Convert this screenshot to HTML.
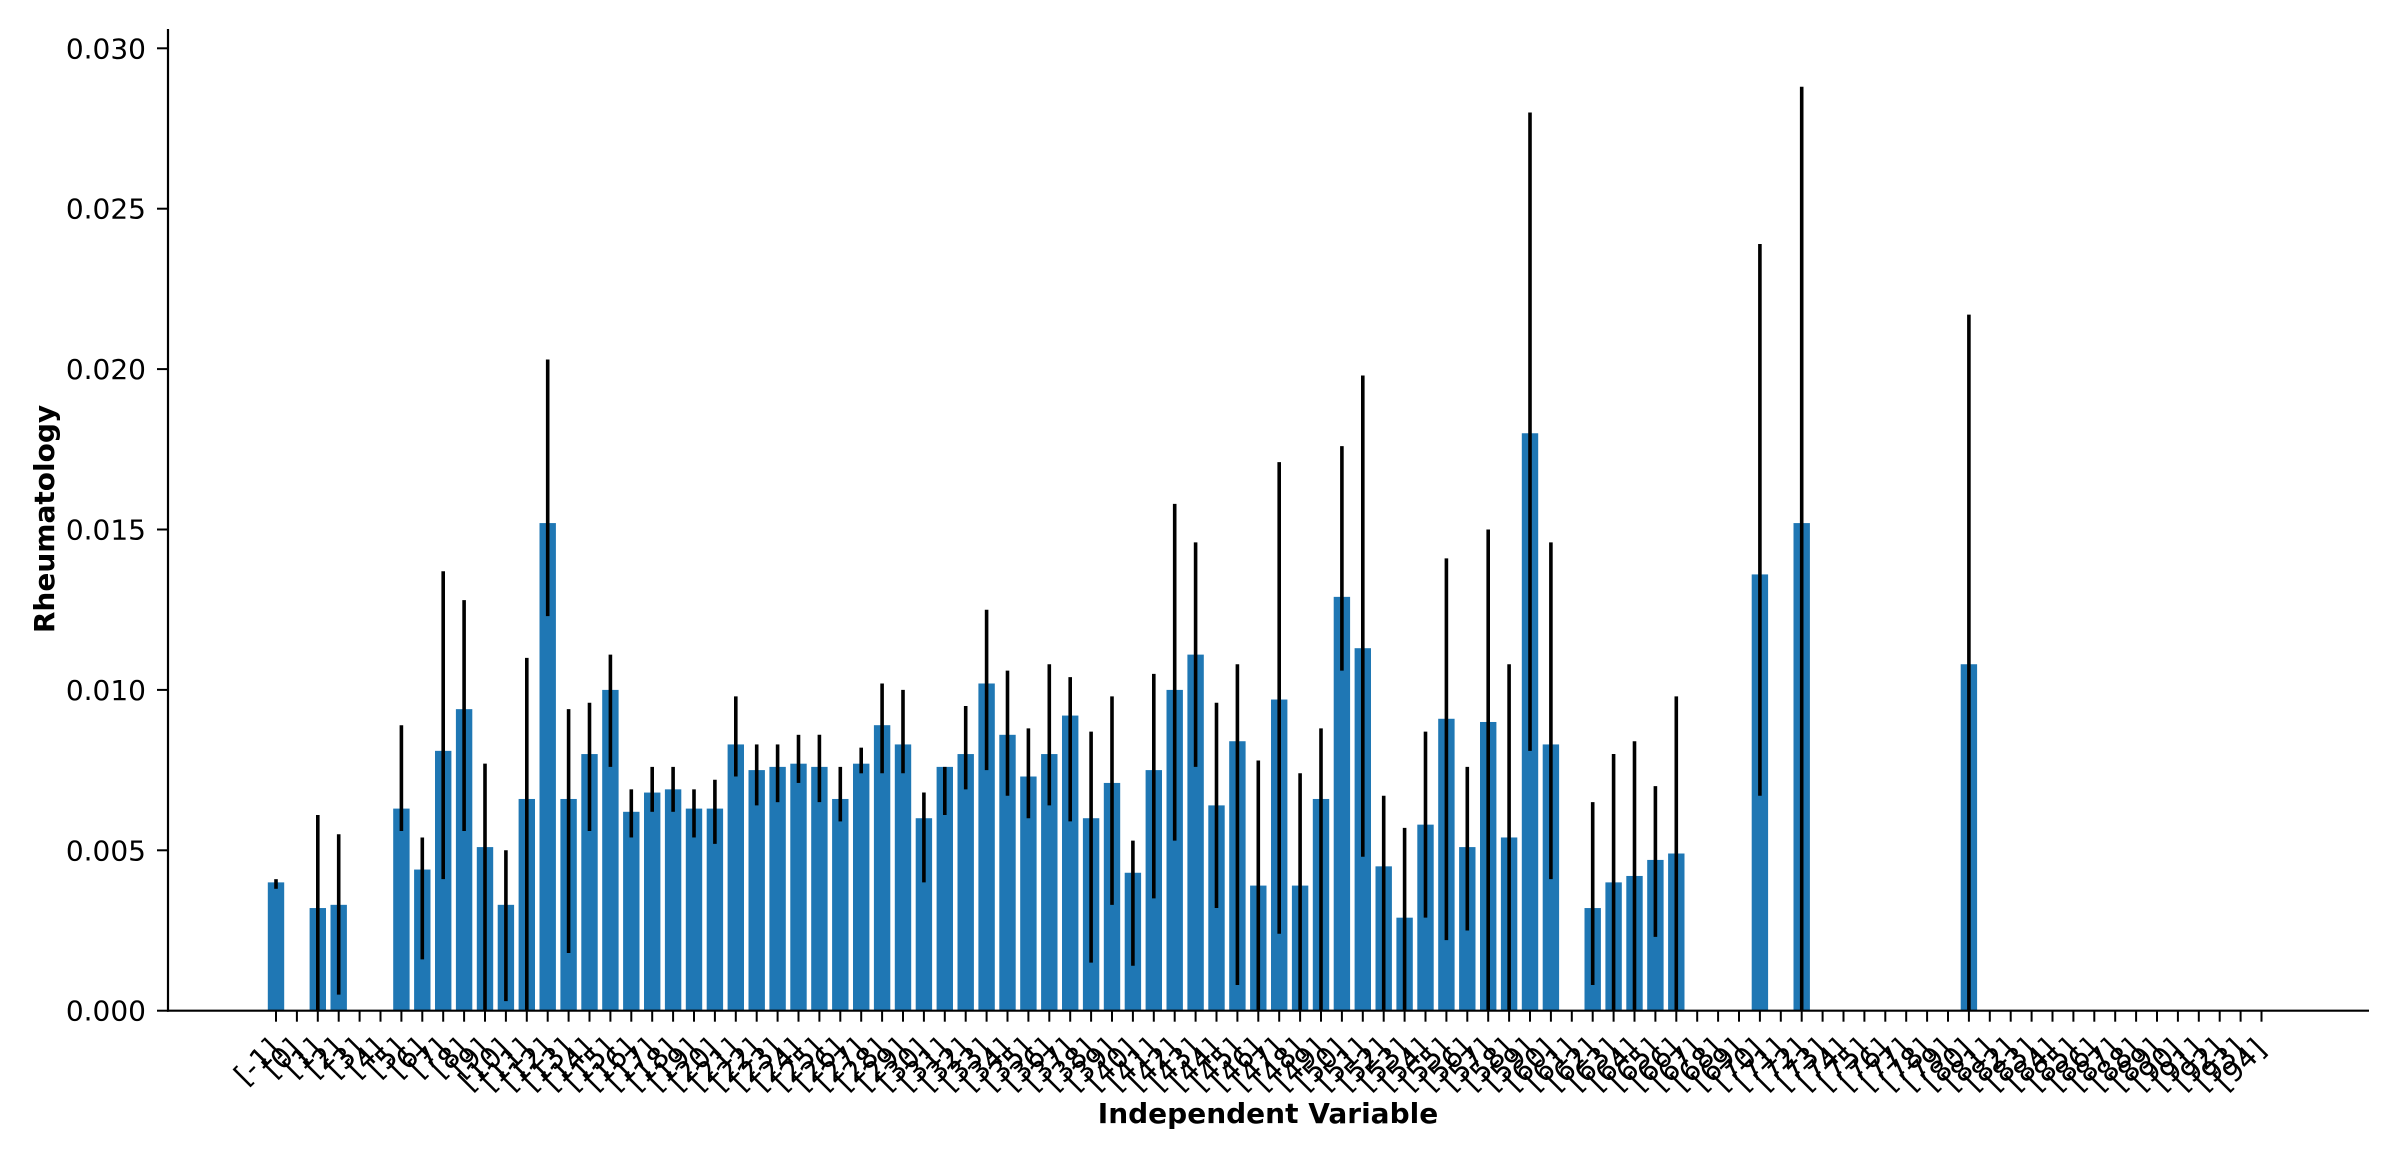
<!DOCTYPE html>
<html><head><meta charset="utf-8">
<style>
html,body{margin:0;padding:0;background:#fff;}
svg{display:block;font-family:"DejaVu Sans","Liberation Sans",sans-serif;}
</style></head>
<body>
<svg id="chart" width="2400" height="1160" viewBox="0 0 2400 1160" xmlns="http://www.w3.org/2000/svg">
<g id="bars"></g>
<g id="errs"></g>
<g id="yaxis"></g>
<g id="xaxis"></g>
<text x="1268" y="1123" font-size="28" font-weight="bold" text-anchor="middle">Independent Variable</text>
<text x="0" y="0" font-size="28" font-weight="bold" text-anchor="middle" transform="translate(54,519) rotate(-90)">Rheumatology</text>
</svg>
<script>
const categories = [];
for (let k = -1; k <= 94; k++) categories.push('[' + k + ']');
// null = no bar
const values = [0.0040,null,0.0032,0.0033,null,null,0.0063,0.0044,0.0081,0.0094,
0.0051,0.0033,0.0066,0.0152,0.0066,0.0080,0.0100,0.0062,0.0068,0.0069,
0.0063,0.0063,0.0083,0.0075,0.0076,0.0077,0.0076,0.0066,0.0077,0.0089,
0.0083,0.0060,0.0076,0.0080,0.0102,0.0086,0.0073,0.0080,0.0092,0.0060,
0.0071,0.0043,0.0075,0.0100,0.0111,0.0064,0.0084,0.0039,0.0097,0.0039,
0.0066,0.0129,0.0113,0.0045,0.0029,0.0058,0.0091,0.0051,0.0090,0.0054,
0.0180,0.0083,null,0.0032,0.0040,0.0042,0.0047,0.0049,null,null,
null,0.0136,null,0.0152,null,null,null,null,null,null,
null,0.0108,null,null,null,null,null,null,null,null,
null,null,null,null,null,null];
const errLow = [0.0038,null,0.0000,0.0005,null,null,0.0056,0.0016,0.0041,0.0056,
0.0000,0.0003,0.0000,0.0123,0.0018,0.0056,0.0076,0.0054,0.0062,0.0062,
0.0054,0.0052,0.0073,0.0064,0.0065,0.0071,0.0065,0.0059,0.0074,0.0074,
0.0074,0.0040,0.0061,0.0069,0.0075,0.0067,0.0060,0.0064,0.0059,0.0015,
0.0033,0.0014,0.0035,0.0053,0.0076,0.0032,0.0008,0.0000,0.0024,0.0000,
0.0000,0.0106,0.0048,0.0000,0.0000,0.0029,0.0022,0.0025,0.0000,0.0000,
0.0081,0.0041,null,0.0008,0.0000,0.0000,0.0023,0.0000,null,null,
null,0.0067,null,0.0000,null,null,null,null,null,null,
null,0.0000,null,null,null,null,null,null,null,null,
null,null,null,null,null,null];
const errHigh = [0.0041,null,0.0061,0.0055,null,null,0.0089,0.0054,0.0137,0.0128,
0.0077,0.0050,0.0110,0.0203,0.0094,0.0096,0.0111,0.0069,0.0076,0.0076,
0.0069,0.0072,0.0098,0.0083,0.0083,0.0086,0.0086,0.0076,0.0082,0.0102,
0.0100,0.0068,0.0076,0.0095,0.0125,0.0106,0.0088,0.0108,0.0104,0.0087,
0.0098,0.0053,0.0105,0.0158,0.0146,0.0096,0.0108,0.0078,0.0171,0.0074,
0.0088,0.0176,0.0198,0.0067,0.0057,0.0087,0.0141,0.0076,0.0150,0.0108,
0.0280,0.0146,null,0.0065,0.0080,0.0084,0.0070,0.0098,null,null,
null,0.0239,null,0.0288,null,null,null,null,null,null,
null,0.0217,null,null,null,null,null,null,null,null,
null,null,null,null,null,null];
const yTicks = [0.000,0.005,0.010,0.015,0.020,0.025,0.030];
const yTickLabels = ['0.000','0.005','0.010','0.015','0.020','0.025','0.030'];

const NS = 'http://www.w3.org/2000/svg';
const plotLeft = 168, plotRight = 2369, plotTop = 29, plotBottom = 1010.7;
const yPerUnit = 160.4 / 0.005;
const x0 = 276, step = 20.9, barW = 16.4;
function xScale(i){ return x0 + i * step; }
function yScale(v){ return plotBottom - v * yPerUnit; }
function mk(tag, attrs, parent){ const e = document.createElementNS(NS, tag); for (const k in attrs) e.setAttribute(k, attrs[k]); parent.appendChild(e); return e; }

const gb = document.getElementById('bars'), ge = document.getElementById('errs');
const gx = document.getElementById('xaxis'), gy = document.getElementById('yaxis');

values.forEach((v, i) => {
  if (v === null) return;
  const r = mk('rect', {x: xScale(i) - barW/2, y: yScale(v), width: barW, height: plotBottom - yScale(v), fill: '#1f77b4'}, gb);
  
  
});
errLow.forEach((lo, i) => {
  if (lo === null) return;
  const l = mk('line', {x1: xScale(i), x2: xScale(i), y1: yScale(lo), y2: yScale(errHigh[i]), stroke: '#000', 'stroke-width': 3.6}, ge);
  
  
});

const sl = mk('line', {x1: plotLeft, x2: plotLeft, y1: plotTop, y2: plotBottom + 1, stroke: '#000', 'stroke-width': 2.2}, gy);


const sb = mk('line', {x1: plotLeft - 1, x2: plotRight, y1: plotBottom, y2: plotBottom, stroke: '#000', 'stroke-width': 2.2}, gx);



yTicks.forEach((t, i) => {
  const y = yScale(t);
  const tk = mk('line', {x1: plotLeft - 11, x2: plotLeft, y1: y, y2: y, stroke: '#000', 'stroke-width': 2}, gy);
  
  
  const tx = mk('text', {x: plotLeft - 22, y: y + 10, 'font-size': 28, 'text-anchor': 'end'}, gy);
  tx.textContent = yTickLabels[i];
  
  
});

categories.forEach((c, i) => {
  const x = xScale(i);
  const tk = mk('line', {x1: x, x2: x, y1: plotBottom, y2: plotBottom + 11, stroke: '#000', 'stroke-width': 2}, gx);
  
  
  const tx = mk('text', {x: 0, y: 0, 'font-size': 28.5, 'text-anchor': 'end', transform: 'translate(' + (x + 6) + ',' + (plotBottom + 40) + ') rotate(-45)'}, gx);
  tx.textContent = c;
  
  
});
</script>
</body></html>
